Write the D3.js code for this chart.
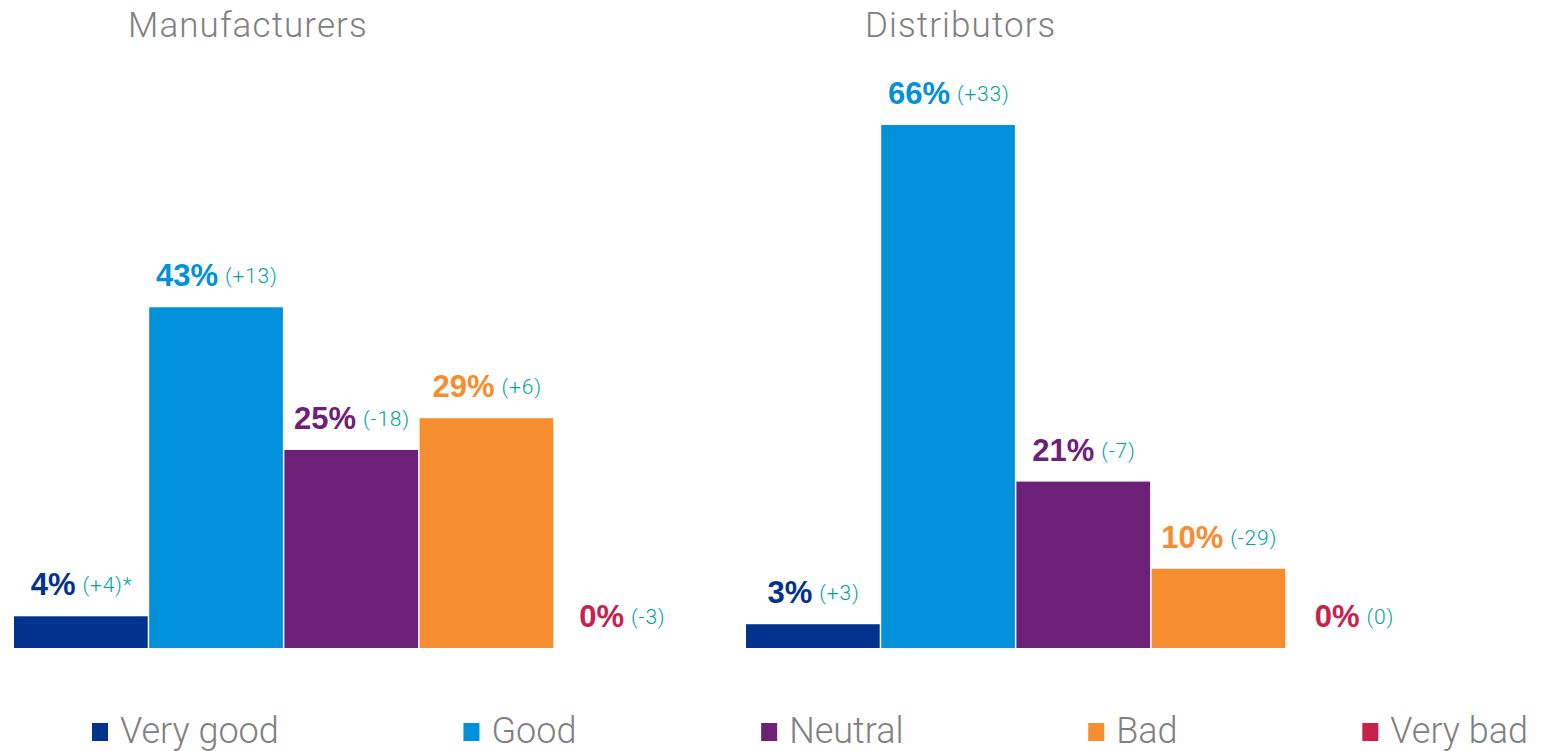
<!DOCTYPE html>
<html lang="en">
<head>
    <meta charset="utf-8">
    <title>Manufacturers vs Distributors</title>
    <script src="https://cdn.jsdelivr.net/npm/d3@7/dist/d3.min.js"></script>
</head>
<style>
    body {
        margin: 0;
        background: #ffffff;
    }

    svg {
        display: block;
    }

    .title, .legend text {
        font-family: Roboto, 'Liberation Sans', sans-serif;
        font-weight: 300;
        fill: #808080;
    }

    .pct {
        font-family: 'Liberation Sans', Arial, sans-serif;
        font-weight: bold;
        font-size: 31px;
    }

    .chg {
        font-family: Roboto, 'Liberation Sans', sans-serif;
        font-weight: 300;
        font-size: 21px;
        fill: #00a3a1;
        letter-spacing: 0.8px;
    }
</style>
<body>
<script type="text/javascript">

    // categories and colours
    var categories = ['Very good', 'Good', 'Neutral', 'Bad', 'Very bad'];
    var colors = ['#00338d', '#0091da', '#6d2077', '#f68d2e', '#c6224c'];

    // share of answers (%)
    var manufacturers = [4, 43, 25, 29, 0];
    var distributors = [3, 66, 21, 10, 0];

    // change against previous survey (percentage points)
    var manufacturersChange = ['(+4)*', '(+13)', '(-18)', '(+6)', '(-3)'];
    var distributorsChange = ['(+3)', '(+33)', '(-7)', '(-29)', '(0)'];

    var panelTitles = ['Manufacturers', 'Distributors'];

    var width = 1541, height = 751;
    var baseline = 648;

    var svg = d3.select('body')
        .append('svg')
        .attr('width', width)
        .attr('height', height);

    var y = d3.scaleLinear()
        .domain([0, 66])
        .range([baseline, 125]);

    var panels = [
        {title: panelTitles[0], values: manufacturers, changes: manufacturersChange, left: 14, titleX: 128},
        {title: panelTitles[1], values: distributors, changes: distributorsChange, left: 746, titleX: 865}
    ];

    panels.forEach(function (p) {
        var x = d3.scaleBand()
            .domain(categories)
            .range([p.left, p.left + 676])
            .padding(0);

        var g = svg.append('g');

        g.append('text')
            .attr('class', 'title')
            .attr('x', p.titleX)
            .attr('y', 37)
            .style('font-size', '35px')
            .style('letter-spacing', '1.1px')
            .text(p.title);

        g.selectAll('rect.bar')
            .data(p.values)
            .enter()
            .append('rect')
            .attr('class', 'bar')
            .attr('x', function (d, i) { return x(categories[i]); })
            .attr('y', function (d) { return y(d); })
            .attr('width', x.bandwidth() - 1.5)
            .attr('height', function (d) { return baseline - y(d); })
            .attr('fill', function (d, i) { return colors[i]; });

        // value labels: bold percentage + change in teal, centred over the bar
        p.values.forEach(function (v, i) {
            var lab = g.append('g');
            var pct = lab.append('text')
                .attr('class', 'pct')
                .attr('fill', colors[i])
                .attr('y', y(v) - 21)
                .text(v + '%');
            var chg = lab.append('text')
                .attr('class', 'chg')
                .attr('y', y(v) - 24)
                .text(p.changes[i]);
            var w1 = pct.node().getComputedTextLength();
            var w2 = chg.node().getComputedTextLength();
            var gap = 7;
            var start = x(categories[i]) + x.bandwidth() / 2 - (w1 + gap + w2) / 2;
            pct.attr('x', start);
            chg.attr('x', start + w1 + gap);
        });
    });

    // legend, items spread with equal gaps between 92 and 1528
    var legend = svg.append('g').attr('class', 'legend');
    var items = legend.selectAll('g')
        .data(categories)
        .enter()
        .append('g');

    items.append('rect')
        .attr('x', 0)
        .attr('y', 723)
        .attr('width', 16)
        .attr('height', 18)
        .attr('fill', function (d, i) { return colors[i]; });

    items.append('text')
        .attr('x', 28)
        .attr('y', 743)
        .style('font-size', '36px')
        .text(function (d) { return d; });

    var widths = [];
    items.each(function () {
        widths.push(28 + d3.select(this).select('text').node().getComputedTextLength());
    });
    var legendGap = (1528 - 92 - d3.sum(widths)) / (categories.length - 1);
    var pos = 92;
    items.each(function (d, i) {
        d3.select(this).attr('transform', 'translate(' + pos + ',0)');
        pos += widths[i] + legendGap;
    });

</script>
</body>
</html>
